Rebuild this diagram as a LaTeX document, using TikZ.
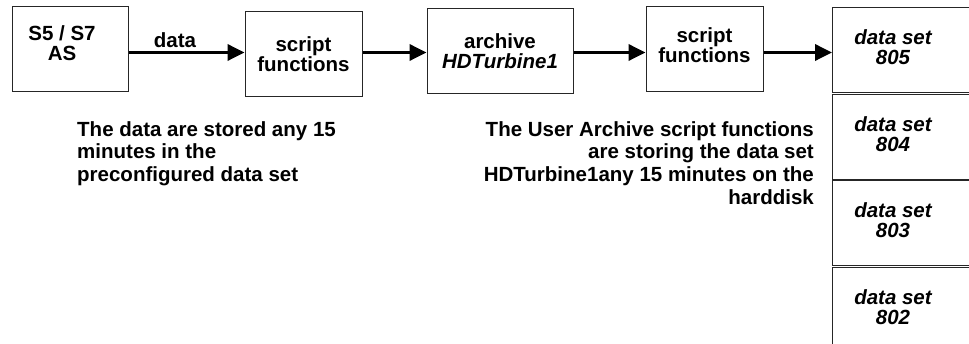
\documentclass[tikz,border=0pt]{standalone}
\usepackage{fontspec}
\setmainfont{Liberation Sans}
\usetikzlibrary{arrows.meta}

% fixed line pitch, no extra skip between touching lines
\newcommand\tightlines{\lineskiplimit=-100pt\relax\lineskip=0pt\relax}

\tikzset{
  txt/.style={font=\fontsize{20.5}{20}\selectfont\bfseries, inner sep=0pt},
  box/.style={draw=black!85, line width=1pt, inner sep=0pt,
              minimum width=#1, minimum height=85pt},
  box/.default=117pt,
  boxtext/.style={txt, align=center},
  dsbox/.style={draw=black!85, line width=1pt, minimum width=160pt,
                minimum height=85pt, inner sep=0pt},
  dstext/.style={txt, font=\fontsize{20.5}{20}\selectfont\bfseries\itshape, align=center},
  flow/.style={line width=3.5pt, -{Triangle[length=17pt,width=16pt]}},
  note/.style={inner sep=0pt,
               font=\fontsize{20.5}{22.8}\selectfont\bfseries\tightlines,
               align=#1},
}

\begin{document}
\begin{tikzpicture}[x=1pt, y=-1pt]
  \path[use as bounding box, clip] (0,0) rectangle (969,344);

  % row height of the flow arrows
  \coordinate (row) at (0,52.5);

  % source and processing chain
  \node[box=116pt] (s5) at (70,49) {};
  \node[box] (sf1) at (303.5,54.5) {};
  \node[box=146pt] (arch) at (500,51.5) {};
  \node[box] (sf2) at (704.5,49.5) {};
  \node[boxtext] (s5t) at (62,43.5) {S5 / S7\\AS};
  \node[boxtext] (sf1t) at (303.5,54) {script\\functions};
  \node[boxtext] (archt) at (500,51.5) {archive\\{\itshape HDTurbine1}};
  \node[boxtext] (sf2t) at (704.5,45.5) {script\\functions};

  % stacked data sets, cut off by the right border
  \node[dsbox, anchor=north west] (ds805) at (832,7) {};
  \node[dsbox, anchor=north west] (ds804) at (832,94) {};
  \node[dsbox, anchor=north west] (ds803) at (832,180) {};
  \node[dsbox, anchor=north west] (ds802) at (832,267) {};
  \node[dstext] (t805) at ([xshift=61pt,yshift=2.5pt]ds805.west) {data set\\805};
  \node[dstext] (t804) at ([xshift=61pt,yshift=2.5pt]ds804.west) {data set\\804};
  \node[dstext] (t803) at ([xshift=61pt,yshift=2.5pt]ds803.west) {data set\\803};
  \node[dstext] (t802) at ([xshift=61pt,yshift=2.5pt]ds802.west) {data set\\802};

  % flow arrows
  \draw[flow] (s5.east |- row) -- (sf1.west |- row);
  \draw[flow] (sf1.east |- row) -- (arch.west |- row);
  \draw[flow] (arch.east |- row) -- (sf2.west |- row);
  \draw[flow] (sf2.east |- row) -- (ds805.west |- row);
  \node[txt, anchor=base] (lbl) at (175,48) {data};

  % explanations
  \node[note=left, anchor=north west] (n1) at (77,121)
    {The data are stored any 15\\minutes in the\\preconfigured data set};
  \node[note=right, anchor=north east] (n2) at (814,121)
    {The User Archive script functions\\are storing the data set\\HDTurbine1any 15 minutes on the\\harddisk};
\end{tikzpicture}
\end{document}
